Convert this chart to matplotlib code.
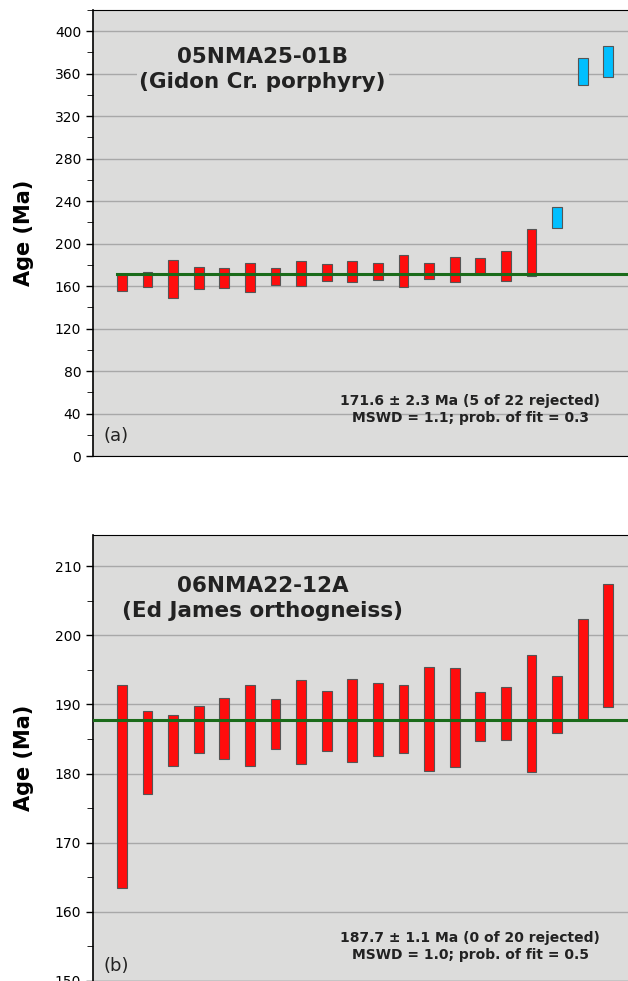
import matplotlib
matplotlib.use("Agg")
import matplotlib.pyplot as plt
from matplotlib.ticker import MultipleLocator

a_lo = [155.3,159,148.4,157.5,158.4,154.4,161.3,160,164.4,163.5,165.3,159.4,166.3,163.5,171.3,164.4,169.4]
a_hi = [171.3,173,185,177.6,176.6,182,176.6,184,180.7,183.2,181.6,189,182.2,187.6,186,193.5,213.6]
a_rej_lo = [215,349,357]
a_rej_hi = [234,375,386]
a_mean = 171.6

b_lo = [163.5,177.0,181.1,183.0,182.1,181.1,183.6,181.4,183.2,181.7,182.5,183.0,180.4,180.9,184.7,184.8,180.3,185.8,187.8,189.7]
b_hi = [192.8,189.0,188.5,189.8,191.0,192.8,190.8,193.5,191.9,193.7,193.1,192.8,195.4,195.2,191.8,192.5,197.2,194.1,202.4,207.4]
b_mean = 187.7

fig = plt.figure(figsize=(6.28, 9.81), dpi=100)
bg = "#dcdcdb"
w = 0.38

def style(ax):
    ax.set_facecolor(bg)
    ax.set_xlim(-0.13, 20.77)
    ax.set_xticks([])
    ax.spines['right'].set_visible(False)
    ax.spines['left'].set_linewidth(1.2)
    ax.yaxis.grid(True, which='major', color='#a8a8a8', lw=1)
    ax.set_axisbelow(True)
    ax.tick_params(axis='y', labelsize=10, direction='out', length=5, width=1)
    ax.tick_params(axis='y', which='minor', length=4)
    ax.set_ylabel("Age (Ma)", fontsize=15, fontweight='bold', labelpad=15)

ax1 = fig.add_axes([0.148, 0.535, 0.852, 0.455])
style(ax1)
ax1.set_ylim(0, 420)
ax1.yaxis.set_major_locator(MultipleLocator(40))
ax1.yaxis.set_minor_locator(MultipleLocator(20))
x = list(range(1, len(a_lo) + 1))
ax1.bar(x, [h - l for l, h in zip(a_lo, a_hi)], bottom=a_lo, width=w, color='#ff0d0d', edgecolor='#555555', lw=0.8, zorder=3)
xr = list(range(len(a_lo) + 1, len(a_lo) + 1 + len(a_rej_lo)))
ax1.bar(xr, [h - l for l, h in zip(a_rej_lo, a_rej_hi)], bottom=a_rej_lo, width=w, color='#00bfff', edgecolor='#555555', lw=0.8, zorder=3)
ax1.axhline(a_mean, xmin=0.045, color='#1a6b1a', lw=2.2, zorder=4)
ax1.text(6.5, 364, "05NMA25-01B\n(Gidon Cr. porphyry)", fontsize=15.5, fontweight='bold', ha='center', va='center', color='#222222', linespacing=1.3,
         bbox=dict(facecolor=bg, edgecolor='none', pad=2))
ax1.text(14.6, 44, "171.6 ± 2.3 Ma (5 of 22 rejected)\nMSWD = 1.1; prob. of fit = 0.3", fontsize=10, fontweight='bold', ha='center', va='center', color='#222222')
ax1.text(0.3, 14, "(a)", fontsize=13, color='#222222')

ax2 = fig.add_axes([0.148, 0.0, 0.852, 0.4546])
style(ax2)
ax2.set_ylim(150, 214.5)
ax2.yaxis.set_major_locator(MultipleLocator(10))
ax2.yaxis.set_minor_locator(MultipleLocator(5))
x2 = list(range(1, len(b_lo) + 1))
ax2.bar(x2, [h - l for l, h in zip(b_lo, b_hi)], bottom=b_lo, width=w, color='#ff0d0d', edgecolor='#555555', lw=0.8, zorder=3)
ax2.axhline(b_mean, color='#1a6b1a', lw=2.2, zorder=4)
ax2.text(6.5, 205.3, "06NMA22-12A\n(Ed James orthogneiss)", fontsize=15.5, fontweight='bold', ha='center', va='center', color='#222222', linespacing=1.3)
ax2.text(14.6, 155.0, "187.7 ± 1.1 Ma (0 of 20 rejected)\nMSWD = 1.0; prob. of fit = 0.5", fontsize=10, fontweight='bold', ha='center', va='center', color='#222222')
ax2.text(0.3, 151.5, "(b)", fontsize=13, color='#222222')

fig.savefig("out.png", dpi=100)
